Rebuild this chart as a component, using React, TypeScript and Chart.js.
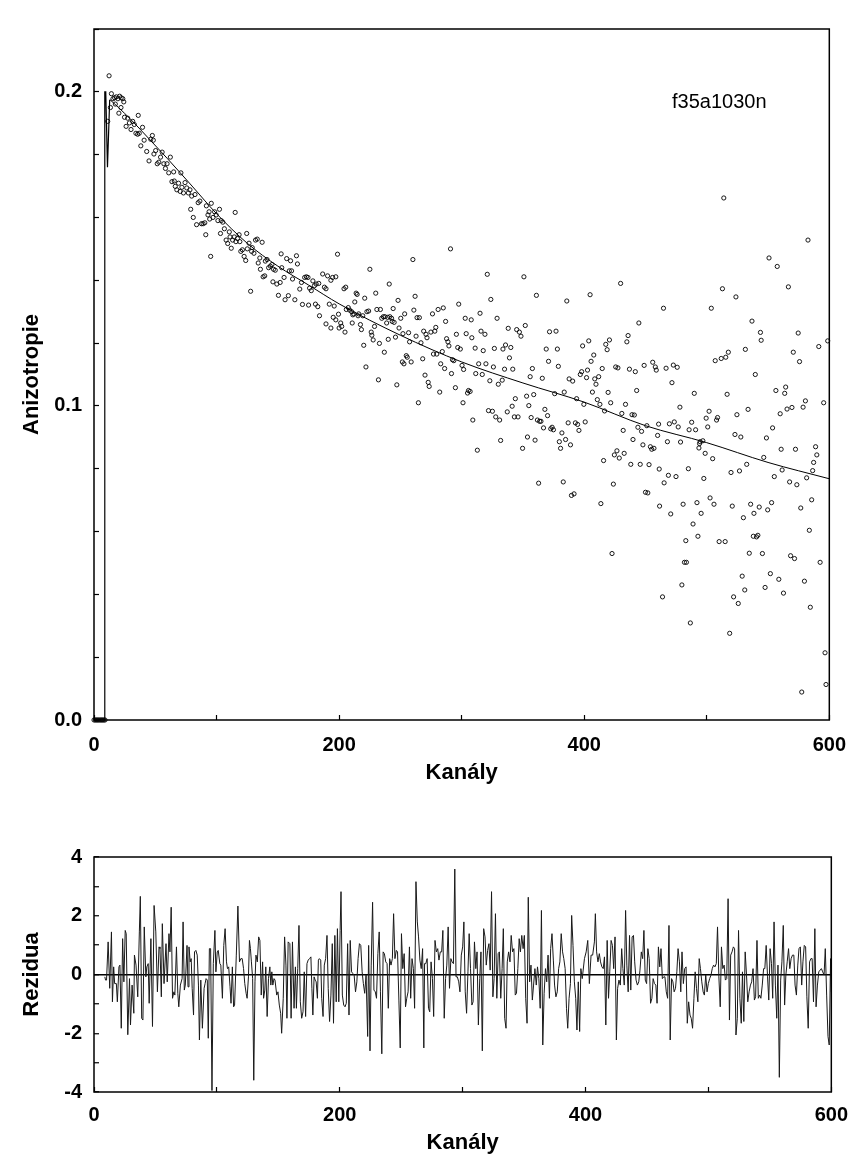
import React, { useEffect, useRef } from "react";
import { Chart, registerables } from "chart.js";

Chart.register(...registerables);

const FONT_FAMILY = "'Liberation Sans', Arial, Helvetica, sans-serif";

// ---- text ----
const sampleLabel = "f35a1030n";
const xTitle = "Kanály";
const mainYTitle = "Anizotropie";
const residualYTitle = "Rezidua";

// ---- tick labels ----
const xTickLabels = [0, 200, 400, 600];
const mainYTickLabels = [0, 0.1, 0.2];
const residualYTickLabels = [-4, -2, 0, 2, 4];

// ---- measured anisotropy (channel, value) ----
const anisotropyStart: [number, number][] = [
  [0, 0], [1, 0], [2, 0], [3, 0], [4, 0], [5, 0], [6, 0], [7, 0], [8, 0], [9, 0],
];

const anisotropyA: [number, number][] = [
  [12.3, 0.2051], [11.2, 0.1906], [14.2, 0.1994], [13.4, 0.195], [15.5, 0.1978], [16.8, 0.1981], [18.2, 0.1984],
  [19.5, 0.1978], [20.9, 0.1986], [22.2, 0.1981], [23.5, 0.1978], [24.3, 0.1968], [17.4, 0.1961], [20.3, 0.1932],
  [22.0, 0.195], [24.9, 0.1919], [26.2, 0.189], [27.5, 0.1916], [28.9, 0.1901], [30.2, 0.188], [31.6, 0.1906],
  [32.9, 0.1896], [34.2, 0.1868], [35.6, 0.1865], [36.1, 0.1925], [36.9, 0.1868], [38.2, 0.1828], [39.6, 0.1887],
  [40.9, 0.1846], [43.0, 0.181], [44.9, 0.178], [46.3, 0.1849], [47.6, 0.1861], [48.4, 0.1846], [48.9, 0.1802],
  [50.3, 0.1813], [51.6, 0.1771], [52.9, 0.1776], [54.3, 0.1792], [55.6, 0.1808], [57.0, 0.1771], [58.3, 0.1756],
  [59.6, 0.1771], [61.0, 0.1742], [62.3, 0.1792], [63.6, 0.1714], [65.0, 0.1745], [65.5, 0.1716], [66.3, 0.1699],
  [67.6, 0.1688], [69.0, 0.1709], [70.3, 0.1683], [70.9, 0.1742], [71.7, 0.1696], [73.0, 0.1678], [74.3, 0.1711],
  [75.7, 0.1694], [77.0, 0.1678], [78.3, 0.1688], [78.9, 0.1626], [79.7, 0.1668], [81.0, 0.16], [82.4, 0.1673],
  [83.7, 0.1577], [85.0, 0.1647], [86.4, 0.1652], [87.7, 0.158], [89.0, 0.158], [90.4, 0.1583], [91.2, 0.1545],
  [91.7, 0.1637], [93.0, 0.1608], [93.9, 0.1618], [94.4, 0.1595], [95.2, 0.1476], [95.7, 0.1645], [97.1, 0.16],
  [98.4, 0.1618], [99.7, 0.1608], [101.1, 0.159], [102.4, 0.1626], [103.2, 0.1549], [103.8, 0.159], [105.1, 0.1585],
  [106.4, 0.1564], [107.8, 0.1528], [109.1, 0.1517], [110.4, 0.1554], [111.0, 0.1538], [112.0, 0.1502], [113.1, 0.1528],
  [114.4, 0.1538], [115.2, 0.1616], [115.8, 0.1523], [117.1, 0.1533], [118.4, 0.1545], [119.0, 0.1523], [119.8, 0.1492],
  [121.1, 0.1497], [122.5, 0.1476], [123.8, 0.1463], [124.6, 0.1549], [125.1, 0.15], [126.5, 0.1518], [127.8, 0.1365],
  [128.6, 0.1492], [129.1, 0.1504], [130.5, 0.1486], [131.8, 0.1528], [133.2, 0.1531], [134.0, 0.1455], [135.3, 0.1471],
  [135.8, 0.1435], [137.2, 0.1521], [138.0, 0.1411], [139.3, 0.1414], [139.8, 0.1461], [141.2, 0.1466], [142.5, 0.144],
  [143.9, 0.1445], [145.2, 0.145], [146.0, 0.1395], [146.5, 0.1435], [147.9, 0.1432], [149.2, 0.1388], [150.5, 0.1352],
  [151.9, 0.1393], [152.7, 0.1484], [153.2, 0.144],
];

const anisotropyB: [number, number][] = [
  [155.1, 0.1409], [157.2, 0.1469], [159.4, 0.143], [160.4, 0.1462], [161.2, 0.143], [162.0, 0.1404], [165.2, 0.1478],
  [166.0, 0.1452], [163.9, 0.1338], [158.6, 0.1351], [155.9, 0.1338], [167.9, 0.1372], [170.1, 0.1323], [169.3, 0.1393],
  [171.9, 0.1409], [173.3, 0.1411], [174.6, 0.1409], [175.1, 0.1321], [175.9, 0.1375], [177.3, 0.1367], [178.6, 0.1398],
  [179.9, 0.1383], [180.7, 0.1324], [181.3, 0.1388], [182.6, 0.1316], [183.4, 0.139], [184.0, 0.1287], [186.6, 0.142],
  [188.0, 0.1378], [189.3, 0.1373], [189.3, 0.1261], [190.6, 0.1414], [192.0, 0.1324], [193.3, 0.1248], [193.3, 0.14],
  [194.7, 0.1409], [196.0, 0.1318], [197.3, 0.1411], [195.2, 0.1282], [197.3, 0.1274], [198.7, 0.1483], [199.5, 0.1292],
  [200.0, 0.1248], [201.3, 0.1264], [202.1, 0.1253], [204.0, 0.1373], [204.8, 0.1235], [205.4, 0.1378], [205.9, 0.1307],
  [207.5, 0.1313], [208.6, 0.1305], [210.2, 0.13], [210.7, 0.1264], [211.2, 0.129], [212.0, 0.1293], [212.8, 0.1331],
  [213.9, 0.1359], [214.7, 0.1355], [215.5, 0.1287], [216.0, 0.1293], [217.4, 0.1259], [218.2, 0.1243], [219.3, 0.1287],
  [220.1, 0.1193], [220.9, 0.1343], [221.9, 0.1124], [222.7, 0.13], [224.1, 0.1302], [225.1, 0.1435], [226.2, 0.1235],
  [226.7, 0.1225], [227.8, 0.121], [228.9, 0.1253], [229.9, 0.1359], [230.8, 0.1307], [232.1, 0.1083], [232.9, 0.1199],
  [233.7, 0.1307], [234.8, 0.1279], [236.1, 0.1284], [236.9, 0.1171], [237.4, 0.1284], [238.8, 0.1264], [239.6, 0.1282],
  [240.1, 0.1212], [240.9, 0.1388], [241.4, 0.1284], [242.8, 0.1279], [243.3, 0.1269], [244.1, 0.131], [244.9, 0.1266],
  [246.0, 0.1219], [247.1, 0.1067], [248.1, 0.1336], [248.9, 0.1248], [250.3, 0.1279], [251.6, 0.114], [252.1, 0.123],
  [252.9, 0.1134], [253.5, 0.1293], [254.8, 0.116], [255.6, 0.1155], [256.7, 0.1233], [257.5, 0.1204], [258.8, 0.114],
  [260.2, 0.1466], [261.0, 0.1305], [262.0, 0.1349], [262.8, 0.1222], [263.6, 0.1281], [264.7, 0.101], [265.5, 0.1281],
  [266.8, 0.1201], [268.2, 0.115], [269.0, 0.1238], [270.1, 0.1098], [270.9, 0.1228], [271.7, 0.1217], [272.7, 0.1075],
  [273.5, 0.1062], [274.9, 0.1235], [276.2, 0.1293], [277.0, 0.1165], [278.1, 0.1238], [278.9, 0.125], [279.7, 0.1165],
  [280.8, 0.1307], [282.1, 0.1044], [282.9, 0.1134], [284.2, 0.1173], [285.0, 0.1312], [286.1, 0.1119], [286.9, 0.1269],
  [287.7, 0.1214], [288.8, 0.1204], [289.6, 0.1191], [290.9, 0.15], [291.7, 0.1103], [292.5, 0.1147], [293.6, 0.1144],
  [294.9, 0.1058], [295.7, 0.1228], [296.8, 0.1186], [297.6, 0.1324], [298.9, 0.1181], [300.3, 0.1129], [301.1, 0.101],
  [301.6, 0.1116], [302.9, 0.1279], [303.7, 0.123], [304.8, 0.1041], [305.6, 0.1049], [306.9, 0.1046], [307.8, 0.1274],
  [308.3, 0.1217], [309.1, 0.0955],
];

const anisotropyC: [number, number][] = [
  [311.0, 0.1184], [311.5, 0.1103], [312.8, 0.0859], [313.9, 0.1134], [315.0, 0.1295], [315.8, 0.1238], [316.8, 0.11],
  [317.6, 0.1176], [319.0, 0.1228], [319.8, 0.1134], [320.9, 0.1419], [321.9, 0.0985], [323.0, 0.108], [323.8, 0.1339],
  [325.1, 0.0983], [325.9, 0.1124], [326.7, 0.1183], [327.8, 0.0965], [328.9, 0.1279], [329.9, 0.1069], [331.0, 0.0955],
  [331.8, 0.089], [333.1, 0.1082], [333.7, 0.1181], [335.0, 0.1117], [335.8, 0.1194], [337.2, 0.0981], [338.0, 0.1247],
  [339.0, 0.1153], [340.1, 0.1186], [341.2, 0.0999], [341.7, 0.1117], [343.0, 0.0965], [343.8, 0.1023], [344.9, 0.1243],
  [346.0, 0.0965], [347.1, 0.1235], [348.4, 0.1222], [349.7, 0.0865], [350.8, 0.1411], [351.9, 0.1256], [353.0, 0.1031],
  [353.7, 0.0901], [354.8, 0.1001], [355.9, 0.1093], [356.7, 0.0963], [357.7, 0.1119], [358.8, 0.1036], [359.9, 0.0891],
  [361.0, 0.1352], [361.8, 0.0955], [362.8, 0.0754], [363.6, 0.0951], [364.7, 0.0951], [365.8, 0.1088], [366.8, 0.093],
  [367.9, 0.0989], [369.0, 0.1181], [370.1, 0.0969], [370.9, 0.1142], [371.7, 0.1236], [372.7, 0.0927], [373.8, 0.0932],
  [374.9, 0.0924], [375.9, 0.1039], [377.0, 0.1238], [378.1, 0.1181], [378.9, 0.1126], [379.7, 0.0886], [380.7, 0.0865],
  [381.8, 0.0914], [382.9, 0.0758], [383.7, 0.1044], [384.8, 0.0893], [385.8, 0.1334], [386.9, 0.0946], [387.7, 0.1086],
  [388.8, 0.0876], [389.6, 0.0715], [390.6, 0.1079], [391.7, 0.072], [392.8, 0.0946], [393.8, 0.1023], [394.6, 0.0941],
  [395.7, 0.0922], [396.8, 0.11], [397.9, 0.1109], [398.7, 0.1191], [399.7, 0.1005], [400.8, 0.0949], [401.9, 0.109],
  [402.7, 0.1114], [403.7, 0.1207], [404.8, 0.1354], [405.6, 0.1142], [406.7, 0.1044], [407.8, 0.1162], [408.6, 0.1086],
  [409.6, 0.1069], [410.7, 0.102], [411.8, 0.1093], [412.8, 0.1005], [413.6, 0.0689], [414.7, 0.1119], [415.8, 0.0826],
  [416.6, 0.0984], [417.6, 0.1196], [418.7, 0.1179], [419.5, 0.1043], [420.6, 0.121], [421.6, 0.101], [422.7, 0.053],
  [423.8, 0.0751], [424.6, 0.0844], [425.7, 0.1124], [426.7, 0.0857], [427.5, 0.1121], [428.6, 0.0834], [429.7, 0.139],
  [430.7, 0.0976], [431.8, 0.0922], [432.6, 0.0849], [433.7, 0.1005], [434.8, 0.1204], [435.8, 0.1224], [436.9, 0.1117],
  [438.0, 0.0814], [439.0, 0.0972], [439.8, 0.0893], [440.9, 0.0971], [441.7, 0.1109], [442.8, 0.1049], [443.8, 0.0932],
  [444.6, 0.1264], [445.7, 0.0814], [446.8, 0.0919], [447.9, 0.0876], [448.9, 0.1129], [450.0, 0.0725], [451.1, 0.0937],
  [451.9, 0.0723], [452.9, 0.0813], [454.0, 0.087], [455.1, 0.0862], [455.9, 0.1139], [456.9, 0.0865], [458.0, 0.1124],
  [458.8, 0.1114], [459.9, 0.0906], [460.7, 0.0942], [461.2, 0.0799], [461.5, 0.0681],
];

const anisotropyD: [number, number][] = [
  [463.9, 0.0392], [464.7, 0.1311], [465.2, 0.0755], [466.8, 0.112], [467.9, 0.0886], [468.7, 0.0779], [469.5, 0.0943],
  [470.6, 0.0656], [471.6, 0.1074], [472.7, 0.113], [473.5, 0.0949], [474.9, 0.0775], [475.9, 0.1123], [476.7, 0.0933],
  [478.1, 0.0996], [478.6, 0.0885], [479.7, 0.043], [480.7, 0.0687], [481.8, 0.0502], [482.9, 0.0571], [483.4, 0.0502],
  [485.0, 0.08], [485.6, 0.0924], [486.6, 0.0309], [487.7, 0.0948], [488.8, 0.0624], [489.8, 0.104], [490.9, 0.0924],
  [492.0, 0.0692], [492.8, 0.0585], [493.6, 0.0866], [494.1, 0.088], [494.6, 0.0886], [495.4, 0.0658], [496.8, 0.0889],
  [497.6, 0.0769], [498.7, 0.0849], [499.5, 0.0961], [500.8, 0.0933], [501.9, 0.0983], [502.7, 0.0707], [503.7, 0.1311],
  [504.8, 0.0832], [505.9, 0.0687], [506.9, 0.1144], [508.0, 0.0955], [508.8, 0.0963], [510.1, 0.0568], [511.8, 0.1151],
  [512.8, 0.1373], [513.9, 0.1662], [515.0, 0.0568], [515.5, 0.1155], [516.6, 0.1037], [517.6, 0.1171], [518.7, 0.0276],
  [519.8, 0.0788], [520.8, 0.0681], [521.9, 0.0392], [523.0, 0.0909], [523.8, 0.1347], [524.6, 0.0972], [525.7, 0.0371],
  [526.7, 0.0793], [527.8, 0.0901], [528.9, 0.0458], [529.9, 0.0644], [531.0, 0.0414], [531.5, 0.118], [532.6, 0.0814],
  [533.7, 0.0989], [534.7, 0.0531], [535.8, 0.0687], [536.9, 0.127], [538.0, 0.0585], [538.5, 0.0658], [539.6, 0.11],
  [540.6, 0.0583], [541.7, 0.0588], [542.8, 0.0678], [543.8, 0.1234], [544.4, 0.1209], [545.4, 0.053], [546.5, 0.0836],
  [547.6, 0.0422], [548.7, 0.0898], [549.7, 0.0669], [550.8, 0.1471], [551.9, 0.0466], [552.9, 0.0692], [553.7, 0.093],
  [555.1, 0.0775], [556.4, 0.1049], [557.5, 0.1444], [558.8, 0.0448], [559.9, 0.0975], [560.7, 0.0862], [561.5, 0.0796],
  [562.6, 0.0404], [563.6, 0.104], [564.4, 0.106], [565.5, 0.099], [566.6, 0.1379], [567.6, 0.0758], [568.4, 0.0523],
  [569.5, 0.0995], [570.6, 0.1171], [571.6, 0.0514], [572.4, 0.0862], [573.5, 0.0749], [574.6, 0.1232], [575.7, 0.1141],
  [576.7, 0.0675], [577.5, 0.0089], [578.6, 0.0996], [579.7, 0.0442], [580.5, 0.1016], [581.5, 0.0771], [582.6, 0.1528],
  [583.7, 0.0604], [584.5, 0.0359], [585.6, 0.0701], [586.4, 0.0794], [587.2, 0.082], [588.8, 0.087], [589.8, 0.0844],
  [591.4, 0.1189], [592.5, 0.0502], [595.4, 0.101], [596.5, 0.0214], [597.3, 0.0113], [598.7, 0.1207],
];

// ---- fitted curve (channel, value) ----
const fitRise: [number, number][] = [
  [0, 0], [8.8, 0], [8.8, 0.2], [9.6, 0.2], [11.0, 0.176], [12.8, 0.1975], [13, 0.1975],
];
const fitDecay: [number, number][] = [
  [13, 0.1975], [20, 0.195], [30, 0.1912], [45, 0.185], [60, 0.1787], [80, 0.17], [100, 0.1612], [125, 0.1518],
  [150, 0.1445], [175, 0.1385], [200, 0.1325], [250, 0.1225], [300, 0.114], [350, 0.1073], [400, 0.1012],
  [450, 0.0937], [500, 0.0883], [550, 0.082], [600, 0.0768],
];

// ---- residuals (channel, residual) ----
const residualsA: [number, number][] = [
  [8.8, -0.08], [9.4, -0.19], [10.2, -0.19], [11.5, 1.11], [12.8, -0.47], [14.2, 1.45], [15.0, -0.93], [16.0, 0.26],
  [16.8, -0.31], [18.2, -0.31], [19.0, -0.93], [20.3, 0.26], [21.1, 0.32], [22.2, -1.83], [23.3, 1.22], [24.3, -0.25],
  [25.4, 1.5], [26.2, 1.39], [27.5, -2.05], [28.9, -0.14], [29.7, -1.72], [31.0, -0.36], [32.4, -1.32], [32.9, 0.66],
  [34.2, 0.32], [35.6, -0.76], [36.9, 1.45], [37.7, 2.66], [38.8, -1.49], [39.8, -1.55], [40.9, 1.62], [42.2, -0.08],
  [43.0, 0.26], [44.1, 0.37], [44.9, -0.98], [46.3, 1.22], [47.6, -1.77], [48.9, 2.35], [50.3, 1.45], [51.6, -0.59],
  [52.9, 0.94], [53.7, 0.88], [54.8, -0.76], [55.6, 1.73], [57.0, -0.31], [57.5, -0.31], [58.6, 1.05], [59.6, -0.25],
  [61.0, 1.39], [61.8, 0.77], [62.8, 2.29], [63.9, -0.81], [65.0, -0.59], [65.8, -0.7], [67.1, 0.94], [68.2, -0.64],
  [69.0, -1.1], [70.3, -0.36], [71.7, -0.14], [72.5, 1.79], [73.5, -0.53], [74.3, -0.36], [75.7, 0.99], [76.5, -0.42],
  [77.3, 0.94], [78.3, 0.43], [79.1, 0.54], [79.9, -0.47], [81.0, -1.38], [81.8, 0.77], [82.9, 0.82], [84.0, 0.66],
  [85.0, -0.36], [85.8, -2.23], [86.9, -0.19], [88.2, -1.83], [89.6, -0.47], [90.4, -0.31], [91.2, -0.14], [92.2, -0.19],
  [93.0, -2.17], [93.9, 0.88], [94.9, 0.88], [96.0, -3.95], [97.1, 0.37], [98.4, 1.5], [99.2, 0.09], [100.3, 0.77],
  [101.1, 0.82], [102.4, 0.37], [103.2, 0.32], [104.5, -0.81], [105.6, 0.99], [106.7, 1.56], [107.8, 0.43], [108.6, 0.2],
  [109.6, 0.26], [110.7, -0.42], [111.5, -0.98], [112.6, 0.26], [113.6, -1.1], [114.4, -1.04], [115.8, 0.66], [117.1, 2.33],
  [118.4, 0.43], [119.5, 0.54], [120.6, 0.54], [121.7, 0.2], [122.7, -0.31], [123.8, -0.64], [124.6, -0.81], [125.7, -0.08],
  [126.5, 1.16], [127.3, 0.88], [128.1, 0.43], [129.1, -0.14], [130.0, -3.6], [131.0, -0.25], [131.8, 0.66], [132.9, 0.43],
  [134.0, 1.28], [135.0, 1.16], [136.1, -0.7], [137.2, 0.43], [138.0, -0.81], [139.0, -0.53], [139.8, 0.26], [140.9, -1.43],
  [142.0, -0.14], [143.1, 0.26], [143.9, -0.36], [144.7, 0.09], [145.5, -0.36], [146.5, -0.14], [147.3, -0.19], [148.7, -0.7],
  [149.7, -0.59], [150.8, -1.04], [151.9, -1.32], [152.7, -2.0], [154.0, -0.81], [155.1, 1.28], [156.2, 0.32], [157.0, -1.49],
  [158.0, 1.11], [159.4, 1.05], [160.4, -1.49], [161.5, 1.11], [162.8, -1.15], [163.9, 0.26], [164.7, -1.15], [165.8, 0.2],
  [166.8, 1.67], [167.9, -0.93], [169.0, -1.49], [170.1, -1.27], [171.1, 0.09], [172.2, -1.43], [173.3, 0.37], [174.3, 0.49],
  [175.4, 0.54], [176.5, 0.6], [177.3, -0.47], [178.1, -1.38], [179.1, -0.08], [180.0, -0.19], [180.8, -0.25], [181.8, -0.81],
  [182.6, 0.49], [183.4, 0.54], [184.5, 0.49], [185.3, -0.81], [186.4, -1.43], [187.4, 0.32], [188.5, 0.54], [189.6, 1.33],
  [190.6, -0.47], [191.7, -1.6], [192.8, -0.7], [193.9, 1.05], [194.9, -1.66], [196.0, 1.33], [197.1, -0.93], [198.1, 1.56],
  [199.2, -0.93], [200.3, 1.5],
];

const residualsB: [number, number][] = [
  [201.0, 2.82], [202.1, -0.7], [203.2, -1.04], [204.3, -1.1], [205.3, -0.98], [206.4, 1.05], [207.5, -1.38], [208.5, 1.16],
  [209.6, 0.09], [210.7, 0.03], [211.7, -0.02], [212.8, -0.59], [213.9, -0.25], [214.9, 0.54], [216.0, 1.05], [217.1, 0.99],
  [218.2, 0.09], [219.2, -0.31], [220.3, -0.64], [221.4, -0.02], [222.7, -2.11], [223.5, 0.99], [224.6, -2.6], [225.6, 0.32],
  [226.7, 2.46], [227.8, -0.53], [228.9, -0.59], [229.9, -0.81], [231.0, 0.71], [232.1, 1.45], [233.1, -0.59], [234.2, -2.7],
  [235.3, 0.77], [236.3, 0.71], [237.4, 0.43], [238.5, 0.37], [239.5, -1.15], [240.6, 0.54], [241.7, 0.32], [242.8, 0.54],
  [243.8, 2.07], [244.9, 0.54], [246.0, 0.82], [247.0, 0.77], [248.1, -0.87], [249.2, -2.5], [250.2, 1.39], [251.3, 0.2],
  [252.4, 0.71], [253.5, -1.1], [254.5, -0.81], [255.6, -0.59], [256.7, 0.94], [257.7, -0.81], [258.8, 0.54], [259.9, 0.2],
  [260.9, -1.15], [262.0, 3.16], [263.1, 1.79], [264.1, 1.28], [265.2, 0.49], [266.3, 0.2], [267.4, 0.88], [268.4, -2.5],
  [269.0, 0.37], [270.0, 0.37], [271.1, 0.54], [272.2, -1.15], [273.2, -1.27], [274.3, 0.43], [275.4, -0.14], [276.4, -1.43],
  [277.5, 1.16], [278.6, 0.77], [279.7, 0.88], [280.7, 0.49], [281.8, 0.77], [282.9, 0.77], [283.9, 1.5], [285.0, -1.49],
  [286.1, -0.14], [287.1, 0.32], [288.2, 1.62], [289.3, -0.47], [290.4, 0.54], [291.4, 0.43], [292.5, 0.37], [293.6, 3.59],
  [294.6, -0.08], [295.7, -0.08], [296.8, -0.25], [297.8, -0.59], [298.9, 0.66], [300.0, 0.94], [301.0, 1.79], [302.1, -0.59],
  [303.2, -1.32], [304.3, 0.09], [305.3, 1.39], [306.4, 0.2], [307.5, -1.04], [308.5, -0.93], [309.6, 1.11], [310.7, 0.2],
  [311.7, 0.77], [312.8, -1.72], [313.9, -0.14], [314.9, 0.77], [316.0, -2.6], [317.1, 1.56], [318.2, 1.28], [319.2, 0.32],
  [320.3, 0.82], [321.4, 1.05], [322.4, 0.15], [323.5, 2.82], [324.6, -0.76], [325.6, -0.14], [326.7, 2.07], [327.8, -0.81],
  [328.9, 0.71], [329.9, 0.77], [331.0, -0.81], [332.1, 0.2], [333.1, 1.56], [334.2, -1.49], [335.3, -1.83], [336.3, 0.43],
  [337.4, 0.77], [338.5, 0.43], [339.5, 1.33], [340.6, 0.77], [341.7, 0.88], [342.8, -0.7], [343.8, -0.64], [344.9, 0.2],
  [346.0, 1.22], [347.0, 0.77], [348.1, 1.33], [349.2, 0.88], [350.2, 1.33], [351.3, -0.81], [352.4, -1.66], [353.4, 2.63],
  [354.5, -0.25], [355.6, 0.32], [356.7, -0.87], [357.7, -0.36], [358.8, 0.2], [359.9, -0.36], [360.9, 0.26], [362.0, -0.14],
  [363.1, -1.15], [364.1, 2.18], [365.2, -2.4], [366.3, -0.64], [367.4, 0.2], [368.4, -0.25], [369.5, 0.66], [370.6, -0.81],
  [371.6, 0.88], [372.7, 1.39], [373.8, 0.49], [374.8, -0.36], [375.9, -0.76], [377.0, -0.59], [378.1, 0.2], [379.1, 0.43],
  [380.2, 1.39], [381.3, 0.77], [382.3, 0.54], [383.4, 0.2], [384.5, -1.15], [385.5, -1.83], [386.6, -0.81], [387.7, -0.31],
  [388.7, 2.01], [389.8, 0.99], [390.9, -0.25], [392.0, -0.81], [393.0, -1.89], [394.1, -0.25], [395.2, -1.94], [396.2, 0.2],
  [397.3, -0.14],
];

const residualsC: [number, number][] = [
  [399.1, 0.54], [400.5, 0.77], [401.8, 1.16], [403.1, -0.31], [404.5, 0.66], [405.8, 0.66], [407.2, 1.11], [408.0, 2.07],
  [409.0, 0.77], [410.1, 0.43], [411.2, 0.71], [412.2, 0.43], [413.3, 0.26], [414.4, 0.2], [415.4, 0.6], [416.5, -1.72],
  [417.6, 1.16], [418.7, -0.81], [419.7, 0.09], [420.8, 1.16], [421.9, 0.99], [422.9, 0.2], [424.0, 1.28], [425.1, -2.23],
  [426.1, -0.47], [427.2, -0.19], [428.3, -0.36], [429.4, 0.88], [430.4, 0.2], [431.5, -0.36], [432.6, 2.18], [433.6, 0.32],
  [434.7, -0.59], [435.8, 1.33], [436.8, -0.53], [437.9, 1.28], [439.0, 1.33], [440.0, 0.43], [441.1, -0.19], [442.2, -0.36],
  [443.3, -0.25], [444.3, 0.15], [445.4, 0.77], [446.5, 0.54], [447.5, 1.5], [448.6, -0.19], [449.7, -0.31], [450.7, 0.88],
  [451.8, 0.54], [452.9, -0.98], [454.0, -0.81], [455.0, -0.14], [456.1, -0.31], [457.2, -0.36], [458.2, -0.98], [459.3, 0.94],
  [460.4, 0.26], [461.4, 0.88], [462.5, -0.14], [463.6, -0.08], [464.6, -0.08], [465.7, -0.59], [466.8, -0.81], [467.9, 1.67],
  [468.9, -2.23], [470.0, -0.14], [471.1, -0.25], [472.1, -0.59], [473.2, -0.47], [474.3, 0.09], [475.3, 0.88], [476.4, 0.43],
  [477.5, -0.59], [478.5, 0.77], [479.6, -0.31], [480.7, 0.2], [481.8, 0.26], [482.8, -1.66], [483.9, -0.93], [485.0, -1.38],
  [486.0, -1.49], [487.1, -1.83], [488.2, -0.81], [489.2, 0.09], [490.3, -0.47], [491.4, -0.93], [492.5, 0.54], [493.5, 0.2],
  [494.6, -0.25], [495.7, -0.59], [496.7, -0.7], [497.8, -0.02], [498.9, -0.59], [499.9, -0.31], [501.0, -0.14], [502.1, -0.02],
  [503.1, 0.2], [504.2, 0.32], [505.3, 0.26], [506.4, 0.37], [507.4, 1.62], [508.5, -0.08], [509.6, -1.1], [510.6, 0.94],
  [511.7, 0.2], [512.8, 0.32], [513.8, -0.19], [514.9, -0.14], [516.0, 2.58], [517.1, -1.55], [518.1, 0.66], [519.2, 0.77],
  [520.3, 0.94], [521.3, 0.88], [522.4, -2.06], [523.5, -1.49], [524.5, 1.5], [525.6, -0.81], [526.7, -1.66], [527.7, 0.09],
  [528.8, -1.6], [529.9, 0.77], [531.0, -0.02], [532.0, -0.93], [533.1, -0.59], [534.2, -0.36], [535.2, -0.25], [536.3, 0.2],
  [537.4, -0.87], [538.4, -0.76], [539.5, 1.16], [540.6, -0.81], [541.7, -0.7], [542.7, -0.81], [543.8, -0.36], [544.9, 0.2],
  [545.9, 0.2], [547.0, 0.99], [548.1, -0.08], [549.1, -0.87], [550.2, 0.88], [551.3, 0.37], [552.3, -0.81], [553.4, 1.79],
  [554.5, -0.36], [555.6, -1.49], [556.6, 0.32], [557.7, -3.5], [558.8, -0.19], [559.8, 0.43], [560.9, 1.67], [562.0, -1.04],
  [563.0, -0.02], [564.1, 0.43], [565.2, 0.88], [566.2, 0.2], [567.3, 0.54], [568.4, 0.66], [569.5, 0.66], [570.5, -0.36],
  [571.6, -0.7], [572.7, 0.32], [573.7, 0.88], [574.8, 0.94], [575.9, -0.36], [576.9, 0.43], [578.0, 0.99], [579.1, 0.94],
  [580.1, -0.76], [581.2, -1.83], [582.3, 0.43], [583.4, 0.54], [584.4, 0.54], [585.5, -0.93], [586.6, 1.56], [587.6, -1.1],
  [588.7, -0.36], [589.8, 0.09], [590.9, 0.15], [591.9, 0.2], [593.0, 0.09], [594.1, -0.02], [595.1, 0.88], [596.2, -0.7],
  [597.3, -2.11], [598.3, -2.4], [599.4, 0.54], [600.0, -0.6],
];

const toXY = (pts: [number, number][]) => pts.map(([x, y]) => ({ x, y }));

const boxPlugin = {
  id: "plotBox",
  afterDraw(chart: any) {
    const { ctx, chartArea: a } = chart;
    ctx.save();
    ctx.strokeStyle = "#000";
    ctx.lineWidth = 1.5;
    ctx.strokeRect(a.left, a.top, a.right - a.left, a.bottom - a.top);
    ctx.restore();
  },
};

const sampleLabelPlugin = {
  id: "sampleLabel",
  afterDraw(chart: any) {
    const { ctx, chartArea: a } = chart;
    ctx.save();
    ctx.fillStyle = "#000";
    ctx.font = `20px ${FONT_FAMILY}`;
    ctx.textAlign = "left";
    ctx.textBaseline = "middle";
    ctx.fillText(sampleLabel, a.left + 578, a.top + 73);
    ctx.restore();
  },
};

const tickFont = { family: FONT_FAMILY, size: 20, weight: "bold" as const };
const titleFont = { family: FONT_FAMILY, size: 22, weight: "bold" as const };

function xAxis(height: number, labelPad: number, titlePadBottom: number) {
  return {
    type: "linear" as const,
    position: "bottom" as const,
    min: 0,
    max: 600,
    afterFit: (s: any) => {
      s.height = height;
    },
    ticks: {
      stepSize: 100,
      autoSkip: false,
      maxRotation: 0,
      padding: labelPad,
      color: "#000",
      font: tickFont,
      callback: (v: any) => (xTickLabels.includes(Number(v)) ? String(v) : ""),
    },
    grid: {
      drawOnChartArea: false,
      drawTicks: true,
      tickLength: -5,
      tickColor: "#000",
      tickWidth: 1.2,
    },
    border: { display: false },
    title: {
      display: true,
      text: xTitle,
      color: "#000",
      font: titleFont,
      padding: { top: 0, bottom: titlePadBottom },
    },
  };
}

function MainChart() {
  const ref = useRef<HTMLCanvasElement | null>(null);
  useEffect(() => {
    if (!ref.current) return;
    const chart = new Chart(ref.current, {
      type: "scatter",
      data: {
        datasets: [
          {
            data: toXY(fitRise),
            showLine: true,
            borderColor: "#000",
            borderWidth: 1.2,
            pointRadius: 0,
            tension: 0,
          },
          {
            data: toXY(fitDecay),
            showLine: true,
            borderColor: "#000",
            borderWidth: 1,
            pointRadius: 0,
            cubicInterpolationMode: "monotone",
          },
          {
            data: toXY([...anisotropyStart, ...anisotropyA, ...anisotropyB, ...anisotropyC, ...anisotropyD]),
            showLine: false,
            pointStyle: "circle",
            pointRadius: 2.1,
            pointBorderWidth: 0.9,
            pointBorderColor: "#000",
            pointBackgroundColor: "rgba(0,0,0,0)",
            clip: false,
          } as any,
        ],
      },
      options: {
        responsive: false,
        animation: false,
        events: [],
        layout: { padding: { left: 0, right: 22, top: 12, bottom: 0 } },
        plugins: { legend: { display: false }, tooltip: { enabled: false } },
        scales: {
          x: xAxis(80, 18, 14),
          y: {
            type: "linear",
            position: "left",
            min: 0,
            max: 0.22,
            afterFit: (s: any) => {
              s.width = 94;
            },
            ticks: {
              stepSize: 0.02,
              autoSkip: false,
              padding: 17,
              color: "#000",
              font: tickFont,
              callback: (v: any) => {
                const n = Number(v);
                return mainYTickLabels.some((t) => Math.abs(t - n) < 1e-9) ? n.toFixed(1) : "";
              },
            },
            grid: { drawOnChartArea: false, drawTicks: true, tickLength: -5, tickColor: "#000", tickWidth: 1.2 },
            border: { display: false },
            title: { display: true, text: mainYTitle, color: "#000", font: titleFont, padding: { top: 19, bottom: 0 } },
          },
        },
      },
      plugins: [boxPlugin, sampleLabelPlugin],
    });
    return () => chart.destroy();
  }, []);
  return <canvas ref={ref} width={864} height={800} style={{ display: "block" }} />;
}

function ResidualChart() {
  const ref = useRef<HTMLCanvasElement | null>(null);
  useEffect(() => {
    if (!ref.current) return;
    const chart = new Chart(ref.current, {
      type: "scatter",
      data: {
        datasets: [
          {
            data: toXY([...residualsA, ...residualsB, ...residualsC]),
            showLine: true,
            borderColor: "#1a1a1a",
            borderWidth: 1,
            pointRadius: 0,
            tension: 0,
          },
        ],
      },
      options: {
        responsive: false,
        animation: false,
        events: [],
        layout: { padding: { left: 0, right: 22, top: 57, bottom: 0 } },
        plugins: { legend: { display: false }, tooltip: { enabled: false } },
        scales: {
          x: xAxis(65, 16, 1),
          y: {
            type: "linear",
            position: "left",
            min: -4,
            max: 4,
            afterFit: (s: any) => {
              s.width = 94;
            },
            ticks: {
              stepSize: 1,
              autoSkip: false,
              padding: 17,
              color: "#000",
              font: tickFont,
              callback: (v: any) => (residualYTickLabels.includes(Number(v)) ? String(v) : ""),
            },
            grid: {
              drawOnChartArea: true,
              drawTicks: true,
              tickLength: -5,
              tickColor: "#000",
              tickWidth: 1.2,
              lineWidth: 1.5,
              color: (c: any) => (c.tick && c.tick.value === 0 ? "#000" : "rgba(0,0,0,0)"),
            },
            border: { display: false },
            title: { display: true, text: residualYTitle, color: "#000", font: titleFont, padding: { top: 19, bottom: 0 } },
          },
        },
      },
      plugins: [boxPlugin],
    });
    return () => chart.destroy();
  }, []);
  return <canvas ref={ref} width={864} height={357} style={{ display: "block" }} />;
}

export default function App() {
  return (
    <div style={{ position: "absolute", left: 0, top: 0, width: 864, height: 1157, background: "#fff" }}>
      <div style={{ position: "absolute", left: 0, top: 0 }}>
        <MainChart />
      </div>
      <div style={{ position: "absolute", left: 0, top: 800 }}>
        <ResidualChart />
      </div>
    </div>
  );
}
